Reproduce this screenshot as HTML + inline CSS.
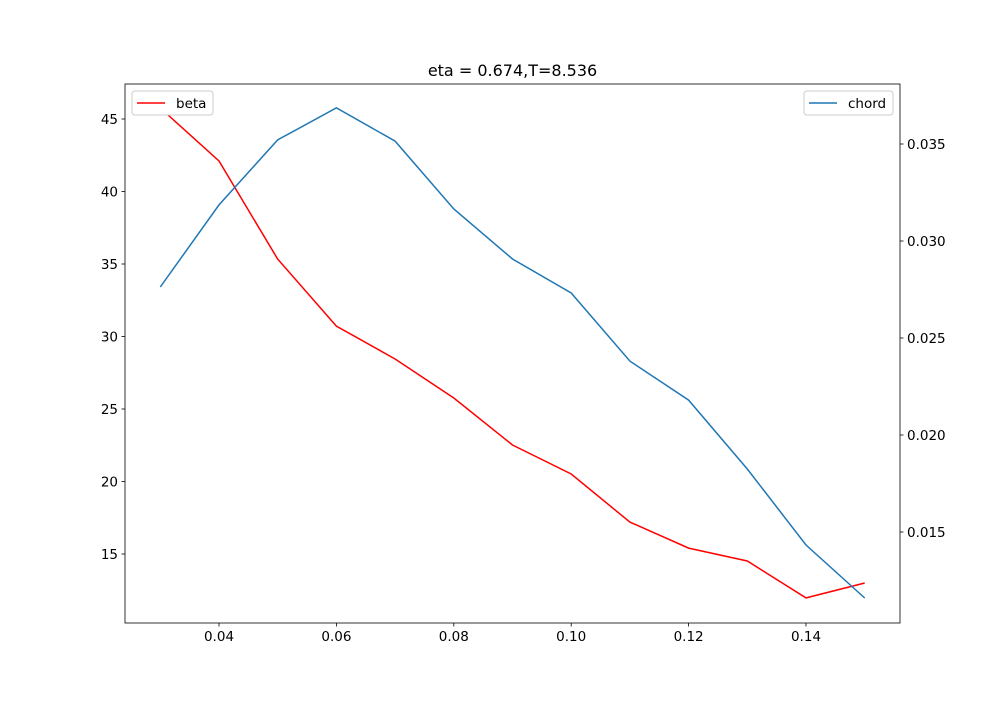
<!DOCTYPE html>
<html><head><meta charset="utf-8"><style>
body{margin:0;background:#fff;}
svg text{font-family:"DejaVu Sans","Liberation Sans",sans-serif;font-size:13.5px;fill:#000;}
</style></head><body>
<svg id="chart" width="1000" height="700" xmlns="http://www.w3.org/2000/svg">
<rect width="1000" height="700" fill="#fff"/>
<text x="512.5" y="76" text-anchor="middle" style="font-size:16px">eta = 0.674,T=8.536</text>
<g id="plot"></g>
</svg>
<script>
const xValues=[0.03,0.04,0.05,0.06,0.07,0.08,0.09,0.10,0.11,0.12,0.13,0.14,0.15];
const betaValues=[45.76,42.1,35.34,30.72,28.45,25.76,22.52,20.52,17.2,15.41,14.52,11.97,13.0];
const chordValues=[0.02763,0.03186,0.03521,0.03686,0.03515,0.03165,0.02907,0.02732,0.02381,0.0218,0.01825,0.01433,0.0116];
const xTicks=[0.04,0.06,0.08,0.10,0.12,0.14];
const leftTicks=[15,20,25,30,35,40,45];
const rightTicks=[0.015,0.020,0.025,0.030,0.035];
const L=125,R=900,T=84,B=623;
const sx=v=>219+(v-0.04)/0.1*587;
const sy=v=>119+(45-v)/30*435;
const sr=v=>144+(0.035-v)/0.02*388;
const NS="http://www.w3.org/2000/svg";
const g=document.getElementById('plot');
function mk(t,a){const e=document.createElementNS(NS,t);for(const k in a)e.setAttribute(k,a[k]);g.appendChild(e);return e;}
function path(vals,f,color,name){
  const d=vals.map((v,i)=>(i?'L':'M')+sx(xValues[i]).toFixed(1)+','+f(v).toFixed(1)).join(' ');
  const p=mk('path',{d:d,fill:'none',stroke:color,'stroke-width':1.5});
  
  
}
path(betaValues,sy,'#ff0000','beta-line');
path(chordValues,sr,'#1f77b4','chord-line');
const fr=mk('rect',{x:L,y:T,width:R-L,height:B-T,fill:'none',stroke:'#000','stroke-width':0.8});


xTicks.forEach(v=>{const x=sx(v);mk('line',{x1:x,x2:x,y1:B,y2:B+3.5,stroke:'#000','stroke-width':0.8});
  const t=mk('text',{x:x,y:B+18,'text-anchor':'middle'});t.textContent=v.toFixed(2);
  
  });
leftTicks.forEach(v=>{const y=sy(v);mk('line',{x1:L,x2:L-3.5,y1:y,y2:y,stroke:'#000','stroke-width':0.8});
  const t=mk('text',{x:L-7,y:y+5,'text-anchor':'end'});t.textContent=v;
  
  });
rightTicks.forEach(v=>{const y=sr(v);mk('line',{x1:R,x2:R+3.5,y1:y,y2:y,stroke:'#000','stroke-width':0.8});
  const t=mk('text',{x:R+7,y:y+5,'text-anchor':'start'});t.textContent=v.toFixed(3);
  
  });
function legend(x,w,label,color,name){
  const r=mk('rect',{x:x,y:91,width:w,height:24,rx:3,fill:'#fff',stroke:'#ccc','stroke-width':1});
  
  
  mk('line',{x1:x+5,x2:x+33,y1:103,y2:103,stroke:color,'stroke-width':1.5});
  const t=mk('text',{x:x+44,y:108});t.textContent=label;
  
  
}
legend(132,81,'beta','#ff0000','beta-legend');
legend(804,89,'chord','#1f77b4','chord-legend');
</script>
</body></html>
